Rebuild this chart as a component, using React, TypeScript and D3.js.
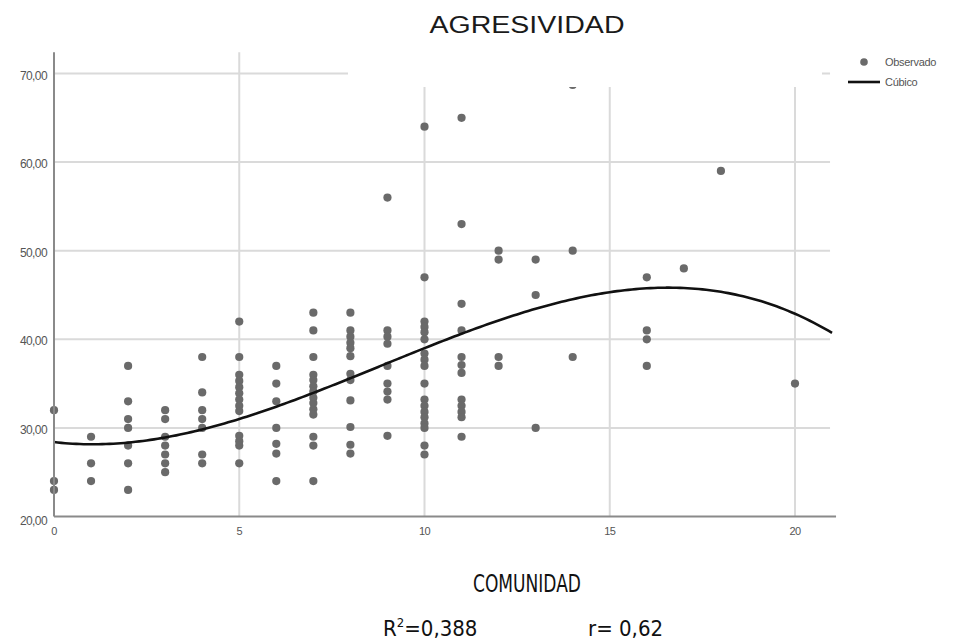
import React from "react";
import * as d3 from "d3";

// Observed points: COMUNIDAD (x) and AGRESIVIDAD (y)
const comunidad: number[] = [
  0, 0, 0,
  1, 1, 1,
  2, 2, 2, 2, 2, 2, 2,
  3, 3, 3, 3, 3, 3, 3,
  4, 4, 4, 4, 4, 4, 4,
  5, 5, 5, 5, 5, 5, 5, 5, 5, 5, 5, 5, 5,
  6, 6, 6, 6, 6, 6, 6,
  7, 7, 7, 7, 7, 7, 7, 7, 7, 7, 7, 7, 7, 7,
  8, 8, 8, 8, 8, 8, 8, 8, 8, 8, 8, 8,
  9, 9, 9, 9, 9, 9, 9, 9, 9,
  10, 10, 10, 10, 10, 10, 10, 10, 10, 10, 10, 10, 10, 10, 10, 10, 10, 10,
  11, 11, 11, 11, 11, 11, 11, 11, 11, 11, 11, 11,
  12, 12, 12, 12,
  13, 13, 13,
  14, 14, 14,
  16, 16, 16, 16,
  17,
  18,
  20,
];
const agresividad: number[] = [
  32, 24, 23,
  29, 26, 24,
  37, 33, 31, 30, 28, 26, 23,
  32, 31, 29, 28, 27, 26, 25,
  38, 34, 32, 31, 30, 27, 26,
  42, 38, 36, 35.3, 34.6, 33.9, 33.2, 32.5, 31.9, 29.1, 28.5, 28, 26,
  37, 35, 33, 30, 28.2, 27.1, 24,
  43, 41, 38, 36, 35.4, 34.7, 34.1, 33.4, 32.8, 32.1, 31.5, 29, 28, 24,
  43, 41, 40.3, 39.6, 39, 38.1, 36.1, 35.4, 33.1, 30.1, 28.1, 27.1,
  56, 41, 40.3, 39.5, 37, 35, 34.1, 33.2, 29.1,
  64, 47, 42, 41.4, 40.8, 40, 38.4, 37.7, 37, 35, 33.2, 32.5, 31.8, 31.2, 30.5, 30, 28, 27,
  65, 53, 44, 41, 38, 37.1, 36.2, 33.2, 32.5, 31.8, 31.2, 29,
  50, 49, 38, 37,
  49, 45, 30,
  68.7, 50, 38,
  47, 41, 40, 37,
  48,
  59,
  35,
];

// Cubic fit coefficients (a + b x + c x^2 + d x^3)
const cubicCoef: number[] = [28.4, -0.49, 0.2493, -0.00943];

const xTicks: number[] = [0, 5, 10, 15, 20];
const yTicks: number[] = [20, 30, 40, 50, 60, 70];
const yTickLabels: string[] = ["20,00", "30,00", "40,00", "50,00", "60,00", "70,00"];
const legendLabels: string[] = ["Observado", "Cúbico"];

const W = 969;
const H = 642;

export default function App() {
  const x = d3.scaleLinear().domain([0, 20]).range([54, 795]);
  const y = d3.scaleLinear().domain([20, 70]).range([516.5, 73.5]);
  const xMax = 21;
  const yTop = 72.4;

  const pts = comunidad.map((c, i) => ({ c, a: agresividad[i] }));
  const curveData = d3.range(0, xMax + 0.001, 0.1).map((v) => ({
    c: v,
    a: cubicCoef[0] + cubicCoef[1] * v + cubicCoef[2] * v * v + cubicCoef[3] * v * v * v,
  }));
  const line = d3
    .line<{ c: number; a: number }>()
    .x((d) => x(d.c))
    .y((d) => y(d.a))
    .curve(d3.curveMonotoneX);

  const grid = "#dadada";
  const axisCol = "#8a8a8a";
  const tickFont = "'Liberation Sans', Arial, sans-serif";
  const condensed = "'Liberation Sans Narrow', 'DejaVu Sans Condensed', 'Liberation Sans', sans-serif";

  return (
    <svg
      width={W}
      height={H}
      style={{ position: "absolute", left: 0, top: 0, background: "#fff" }}
    >
      <rect x={0} y={0} width={W} height={H} fill="#fff" />
      {/* title */}
      <text
        x={527}
        y={33}
        textAnchor="middle"
        fontFamily={tickFont}
        fontSize={23}
        fill="#1a1a1a"
        textLength={195}
        lengthAdjust="spacingAndGlyphs"
      >
        AGRESIVIDAD
      </text>

      {/* horizontal grid */}
      {yTicks
        .filter((t) => t > 20)
        .map((t) => (
          <line key={"hg" + t} x1={x(0)} x2={x(xMax) - 2} y1={y(t)} y2={y(t)} stroke={grid} strokeWidth={2} />
        ))}
      {/* vertical grid */}
      {xTicks
        .filter((t) => t > 0)
        .map((t) => (
          <line key={"vg" + t} x1={x(t)} x2={x(t)} y1={y(yTop)} y2={y(20)} stroke={grid} strokeWidth={2} />
        ))}

      {/* points */}
      {pts.map((p, i) => (
        <circle key={i} cx={x(p.c)} cy={y(p.a)} r={4.1} fill="#6a6a6a" />
      ))}

      {/* cubic curve */}
      <path d={line(curveData) || ""} fill="none" stroke="#111" strokeWidth={2.6} />

      {/* white block covering the top band (as in the reference) */}
      <rect x={348} y={40} width={474} height={47} fill="#fff" />

      {/* axes */}
      <line x1={x(0)} x2={x(0)} y1={y(yTop)} y2={y(20)} stroke={axisCol} strokeWidth={2} />
      <line x1={x(0)} x2={x(xMax) + 4} y1={y(20)} y2={y(20)} stroke={axisCol} strokeWidth={2} />

      {/* y tick labels */}
      {yTicks.map((t, i) => (
        <text
          key={"yl" + t}
          x={47}
          y={y(t) + (t === 20 ? 8 : 6)}
          textAnchor="end"
          fontFamily={tickFont}
          fontSize={12}
          fill="#555"
          letterSpacing={-0.6}
        >
          {yTickLabels[i]}
        </text>
      ))}
      {/* x tick labels */}
      {xTicks.map((t) => (
        <text
          key={"xl" + t}
          x={x(t)}
          y={535}
          textAnchor="middle"
          fontFamily={tickFont}
          fontSize={11}
          fill="#555"
          letterSpacing={-0.5}
        >
          {t}
        </text>
      ))}

      {/* legend */}
      <circle cx={864} cy={62} r={3.8} fill="#6a6a6a" />
      <line x1={848} x2={880} y1={82} y2={82} stroke="#111" strokeWidth={2.6} />
      <text x={885} y={66} fontFamily={tickFont} fontSize={11} fill="#555" letterSpacing={-0.3}>
        {legendLabels[0]}
      </text>
      <text x={885} y={86} fontFamily={tickFont} fontSize={11} fill="#555" letterSpacing={-0.3}>
        {legendLabels[1]}
      </text>

      {/* x axis title and stats */}
      <text
        x={527}
        y={592}
        textAnchor="middle"
        fontFamily={condensed}
        fontSize={24}
        fill="#111"
        textLength={108}
        lengthAdjust="spacingAndGlyphs"
      >
        COMUNIDAD
      </text>
      <text x={383} y={636} fontFamily={condensed} fontSize={22} fill="#111">
        R<tspan dy={-9} fontSize={13}>2</tspan>
        <tspan dy={9}>=0,388</tspan>
      </text>
      <text x={588} y={636} fontFamily={condensed} fontSize={22} fill="#111">
        r= 0,62
      </text>
    </svg>
  );
}
